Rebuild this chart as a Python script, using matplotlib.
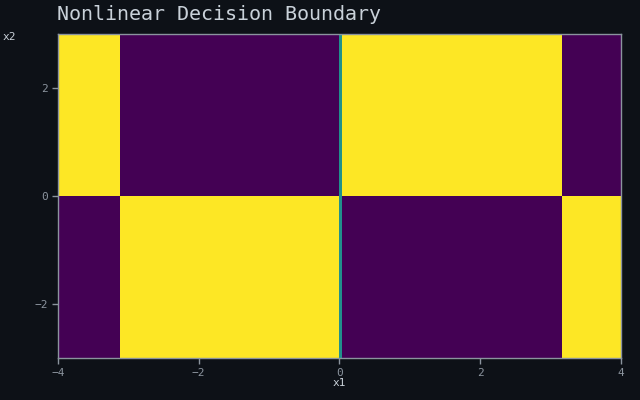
import numpy as np
import matplotlib
matplotlib.use("Agg")
import matplotlib.pyplot as plt

# Region edges of the decision map (x1 and x2) and the class value in each cell
x_edges = [-4.0, -3.12, 0.0, 0.03, 3.16, 4.0]
y_edges = [-3.0, 0.0, 3.0]
classes = [
    [0.0, 1.0, 0.5, 0.0, 1.0],   # x2 < 0
    [1.0, 0.0, 0.5, 1.0, 0.0],   # x2 > 0
]
x_ticks = [-4, -2, 0, 2, 4]
y_ticks = [-2, 0, 2]

bg = "#0d1117"
fig = plt.figure(figsize=(6.4, 4.0), dpi=100, facecolor=bg)
ax = fig.add_axes([0.0906, 0.105, 0.8797, 0.81])
ax.set_facecolor(bg)
ax.pcolormesh(x_edges, y_edges, np.array(classes), cmap="viridis", vmin=0, vmax=1,
              shading="flat", antialiased=False, edgecolors="face", linewidth=0)
ax.set_xlim(-4, 4)
ax.set_ylim(-3, 3)
ax.set_xticks(x_ticks)
ax.set_yticks(y_ticks)
ax.set_xticklabels([str(t).replace("-", "\u2212") for t in x_ticks])
ax.set_yticklabels([str(t).replace("-", "\u2212") for t in y_ticks])
mono = "DejaVu Sans Mono"
for lab in ax.get_xticklabels() + ax.get_yticklabels():
    lab.set_fontfamily(mono)
    lab.set_fontsize(8)
    lab.set_color("#8b949e")
ax.tick_params(colors="#8b949e", length=4, width=1)
for s in ax.spines.values():
    s.set_color("#8b949e")
    s.set_linewidth(1)
ax.set_xlabel("x1", fontfamily=mono, fontsize=8, color="#c9d1d9", labelpad=-0.5)
fig.text(0.004, 0.908, "x2", fontfamily=mono, fontsize=8, color="#c9d1d9", ha="left", va="center")
fig.text(0.089, 0.965, "Nonlinear Decision Boundary", fontfamily=mono, fontsize=14.4,
         color="#c9d1d9", ha="left", va="center")
fig.savefig("out.png", dpi=100, facecolor=bg)
